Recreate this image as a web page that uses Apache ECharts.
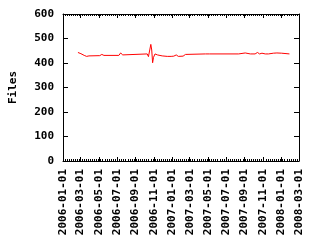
<!DOCTYPE html>
<html><head><meta charset="utf-8">
<script src="https://cdn.jsdelivr.net/npm/echarts@6/dist/echarts.min.js"></script>
<style>html,body{margin:0;padding:0;background:#fff}#c{width:320px;height:240px}</style>
</head><body><div id="c"></div>
<script>
var dates = ["2006-02-20","2006-03-02","2006-03-13","2006-03-21","2006-03-29","2006-05-04","2006-05-11","2006-05-18",
"2006-07-07","2006-07-13","2006-07-20","2006-07-24","2006-10-10","2006-10-14","2006-10-19","2006-10-22","2006-10-25",
"2006-10-28","2006-10-31","2006-11-05","2006-11-13","2006-11-18","2006-11-29","2006-12-05","2006-12-16","2006-12-21",
"2006-12-29","2007-01-07","2007-01-15","2007-01-22","2007-02-07","2007-02-15","2007-04-23","2007-04-28","2007-05-06",
"2007-08-12","2007-08-15","2007-09-03","2007-09-09","2007-09-20","2007-10-06","2007-10-14","2007-10-21","2007-10-29",
"2007-11-09","2007-11-20","2007-11-25","2007-12-06","2007-12-12","2007-12-18","2008-01-03","2008-01-09","2008-01-29"];
var files = [443,438,431,427,429,430,435,431,
431,441,433,436,437,426,457,476,453,
401,423,437,433,429,429,431,427,431,
427,428,433,427,428,435,437,441,437,
437,441,441,445,437,437,443,437,440,
437,437,441,440,437,441,440,437,437];
var tickLabels = ["2006-01-01","2006-03-01","2006-05-01","2006-07-01","2006-09-01","2006-11-01","2007-01-01",
"2007-03-01","2007-05-01","2007-07-01","2007-09-01","2007-11-01","2008-01-01","2008-03-01"];
var yTicks = [0,100,200,300,400,500,600];

function ts(s){var p=s.split('-');return Date.UTC(+p[0],+p[1]-1,+p[2]);}
function fmt(v){var d=new Date(v);function z(n){return (n<10?'0':'')+n;}
  return d.getUTCFullYear()+'-'+z(d.getUTCMonth()+1)+'-'+z(d.getUTCDate());}
var xmin = ts(tickLabels[0]), xmax = ts(tickLabels[tickLabels.length-1]);
var majors = tickLabels.map(ts);
var minors = [];
for (var t = xmin; t <= xmax; t += 7*86400000) minors.push(t);
var F = {fontFamily:'DejaVu Sans Mono', fontWeight:'bold', fontSize:11, color:'#000'};
var line = {show:true, lineStyle:{color:'#000', width:1}};
function xa(pos, ticks, len, labels, showLine){
  return {type:'value', position:pos, min:xmin, max:xmax, scale:true,
    axisLine: showLine ? line : {show:false},
    axisTick:{show:true, inside:true, length:len, customValues:ticks, lineStyle:{color:'#000',width:1}},
    axisLabel: labels ? Object.assign({show:true, rotate:90, margin:8, customValues:majors, formatter:fmt}, F) : {show:false},
    splitLine:{show:false}};
}
var chart = echarts.init(document.getElementById('c'), null, {renderer:'canvas'});
chart.setOption({
  animation:false,
  grid:{left:62, right:21, top:14, bottom:79},
  xAxis:[xa('bottom', majors, 4, true, true), xa('bottom', minors, 2, false, false),
         xa('top', majors, 4, false, true), xa('top', minors, 2, false, false)],
  yAxis:[
    {type:'value', position:'left', min:0, max:600, interval:100, name:'Files', nameLocation:'middle', nameGap:44, nameRotate:90,
     nameTextStyle:F, axisLine:line,
     axisTick:{show:true, inside:true, length:5, lineStyle:{color:'#000'}},
     axisLabel:Object.assign({margin:9, formatter:function(v){return yTicks.indexOf(v)>=0?String(v):'';}}, F),
     splitLine:{show:false}},
    {type:'value', position:'right', min:0, max:600, interval:100, axisLine:line,
     axisTick:{show:true, inside:true, length:5, lineStyle:{color:'#000'}},
     axisLabel:{show:false}, splitLine:{show:false}}
  ],
  series:[{type:'line', xAxisIndex:0, yAxisIndex:0, showSymbol:false, symbol:'none',
    lineStyle:{color:'#ff0000', width:1}, itemStyle:{color:'#ff0000'},
    data: dates.map(function(d,i){return [ts(d), files[i]];})}]
});
</script></body></html>
